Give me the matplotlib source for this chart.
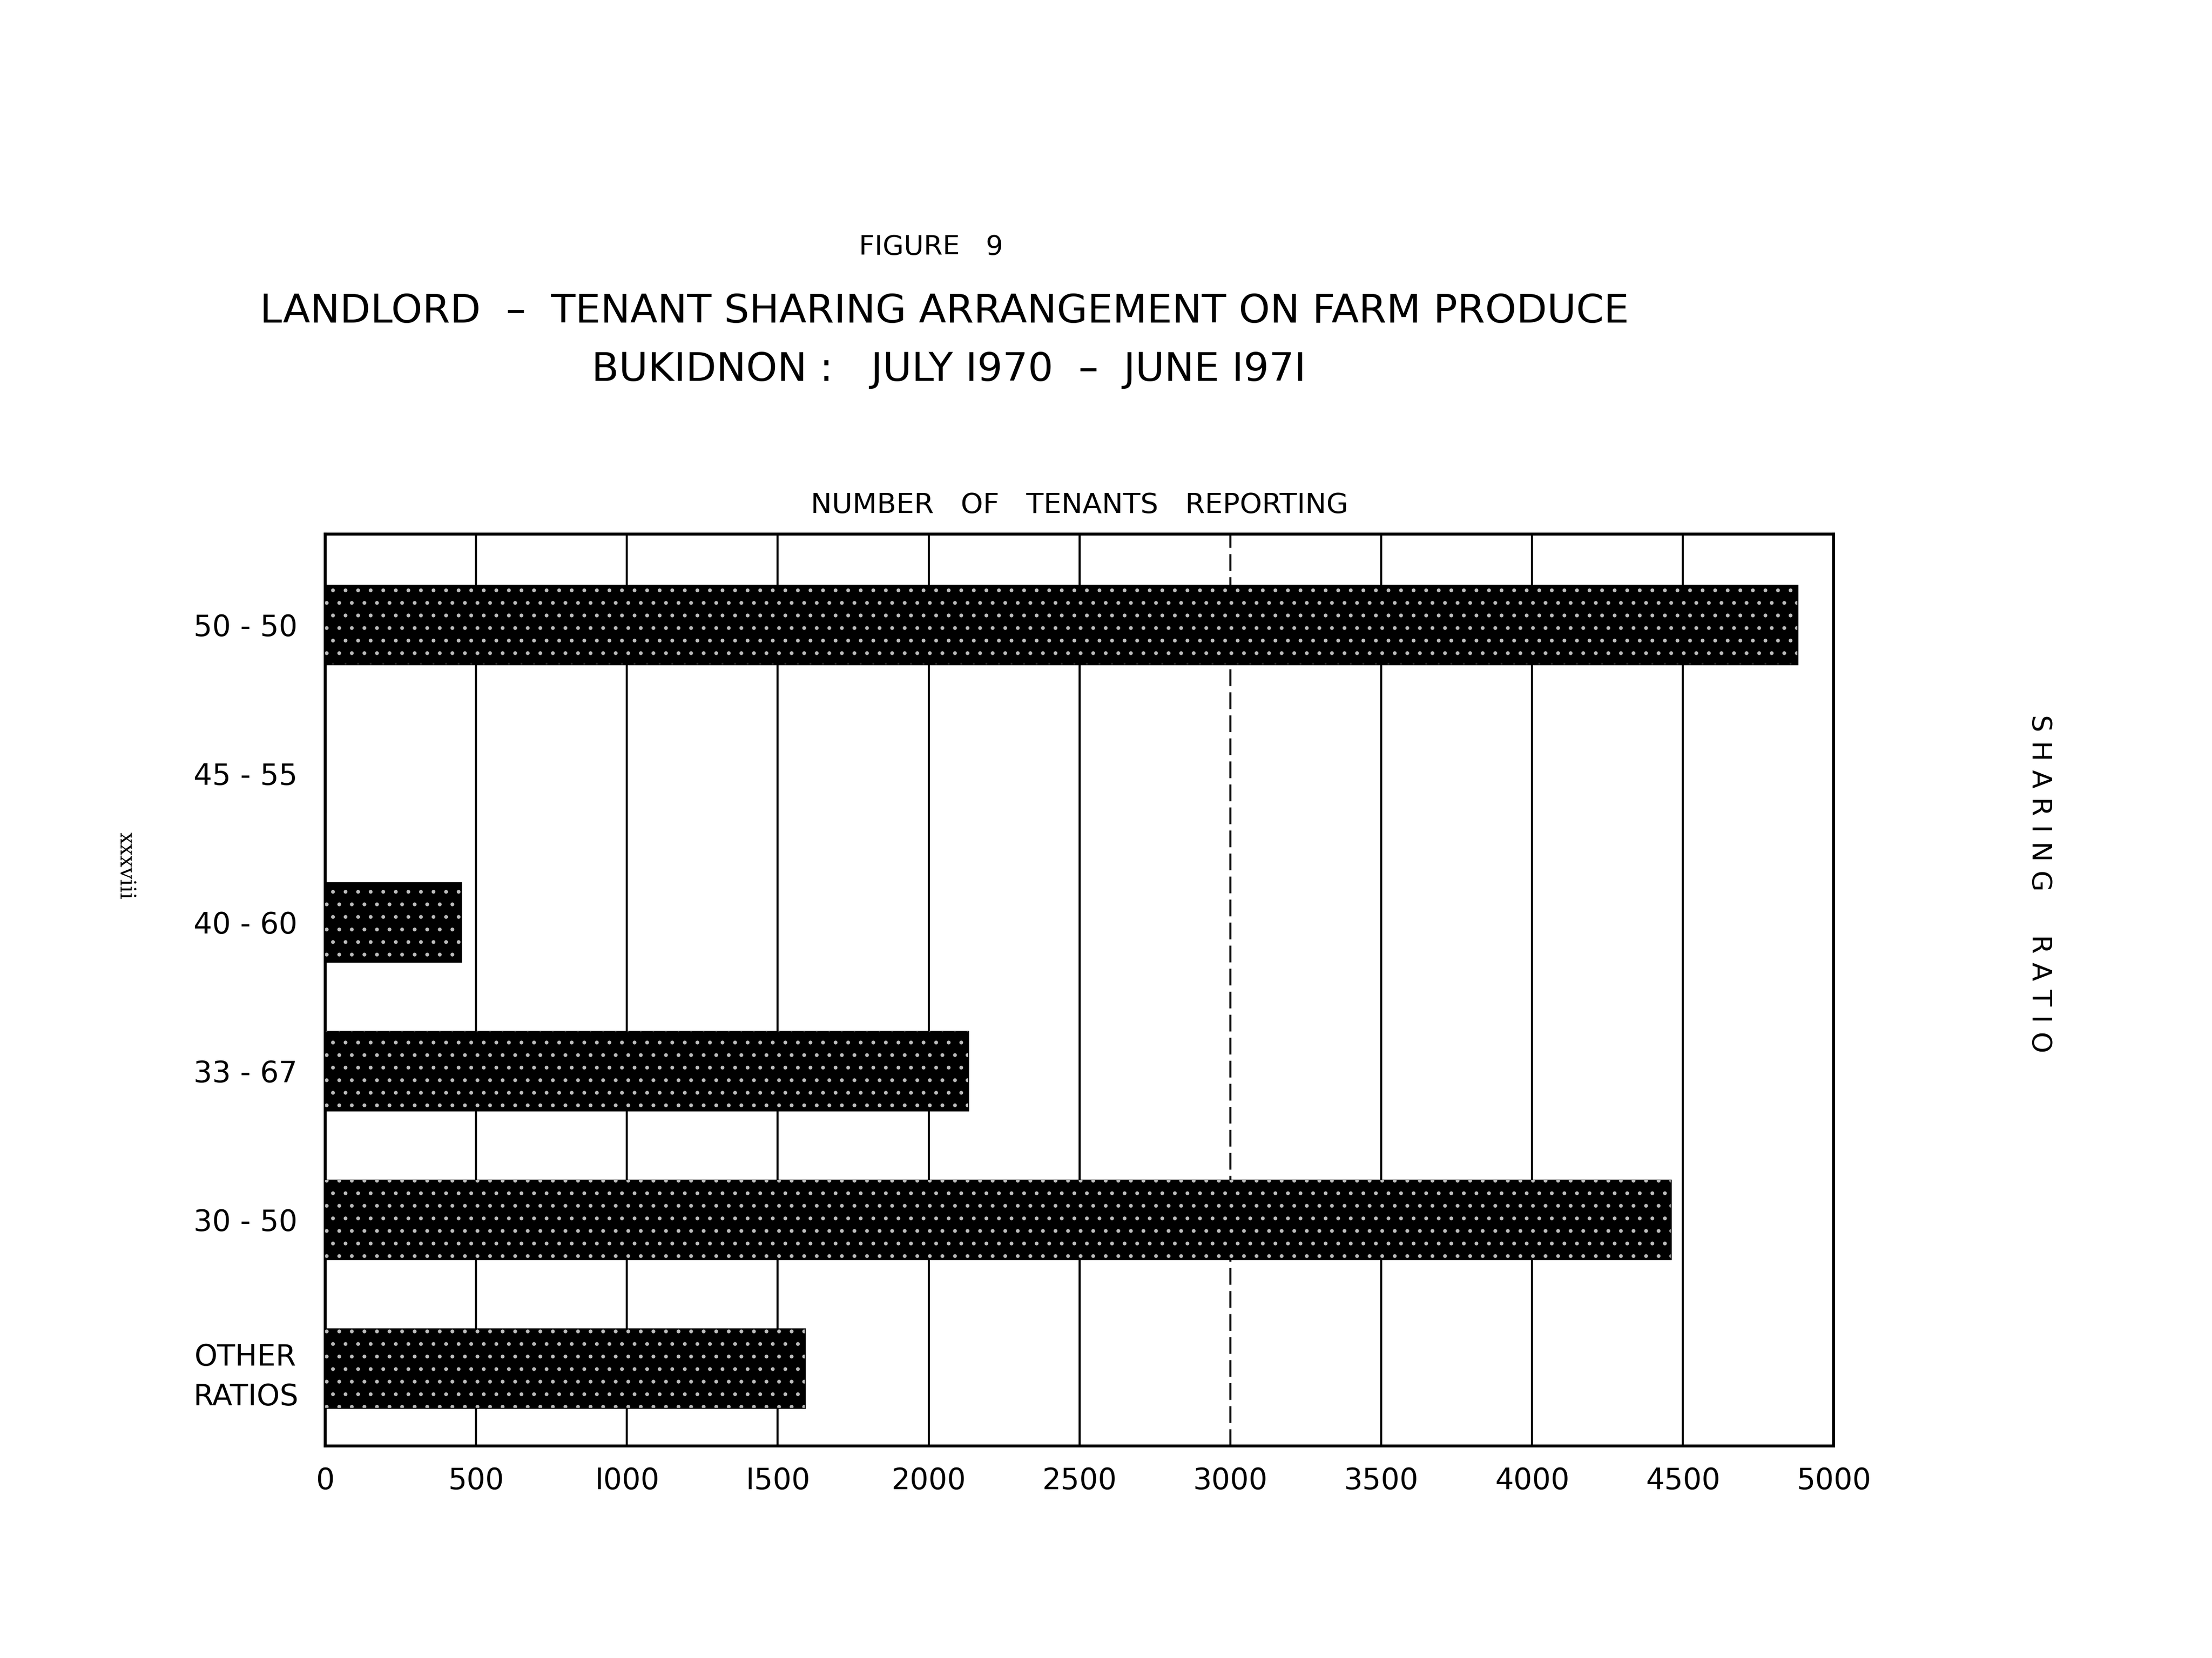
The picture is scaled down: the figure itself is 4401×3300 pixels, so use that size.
import matplotlib.pyplot as plt

plt.rcParams['font.family'] = ['DejaVu Sans']
plt.rcParams['hatch.linewidth'] = 0.6

ratios = ["50 - 50", "45 - 55", "40 - 60", "33 - 67", "30 - 50", "OTHER\nRATIOS"]
tenants = [4880, 0, 450, 2130, 4460, 1590]
x_ticks = [0, 500, 1000, 1500, 2000, 2500, 3000, 3500, 4000, 4500, 5000]
x_labels = ["0", "500", "I000", "I500", "2000", "2500", "3000", "3500", "4000", "4500", "5000"]

fig = plt.figure(figsize=(4401 / 300, 3300 / 300), dpi=300)
ax = fig.add_axes([0.147, 0.128, 0.682, 0.550])

pos = list(range(len(ratios)))

# grid lines behind the bars
for t in x_ticks[1:-1]:
    ls = (0, (8, 3)) if t == 3000 else '-'
    ax.axvline(t, color='black', linewidth=1.0, linestyle=ls, zorder=1)

# black bars with a white stipple over them
ax.barh(pos, tenants, height=0.53, color='black', edgecolor='black',
        linewidth=0.8, zorder=2)
ax.barh(pos, tenants, height=0.53, facecolor='none', edgecolor='#bdbdbd',
        hatch='..', linewidth=0, zorder=3)

ax.set_xlim(0, 5000)
ax.set_ylim(5.52, -0.61)
ax.set_xticks(x_ticks)
ax.set_xticklabels(x_labels, fontsize=14)
ax.set_yticks(pos)
ax.set_yticklabels(ratios, fontsize=14, linespacing=1.5)
for lab in ax.get_yticklabels():
    lab.set_horizontalalignment('center')
ax.tick_params(axis='y', length=0, pad=38)
ax.tick_params(axis='x', length=0, pad=10)
for s in ax.spines.values():
    s.set_linewidth(1.4)

ax.set_title("NUMBER   OF   TENANTS   REPORTING", fontsize=13.5, pad=10)

fig.text(0.421, 0.851, "FIGURE   9", fontsize=13, ha='center', va='center')
fig.text(0.427, 0.812, "LANDLORD  –  TENANT SHARING ARRANGEMENT ON FARM PRODUCE",
         fontsize=19, ha='center', va='center')
fig.text(0.429, 0.777, "BUKIDNON :   JULY I970  –  JUNE I97I",
         fontsize=19, ha='center', va='center')

fig.text(0.922, 0.467, "S H A R I N G     R A T I O", fontsize=13,
         rotation=270, ha='center', va='center')
fig.text(0.057, 0.478, "xxxviii", fontsize=10, family='DejaVu Serif',
         rotation=270, ha='center', va='center')

fig.savefig("out.png", dpi=300)
